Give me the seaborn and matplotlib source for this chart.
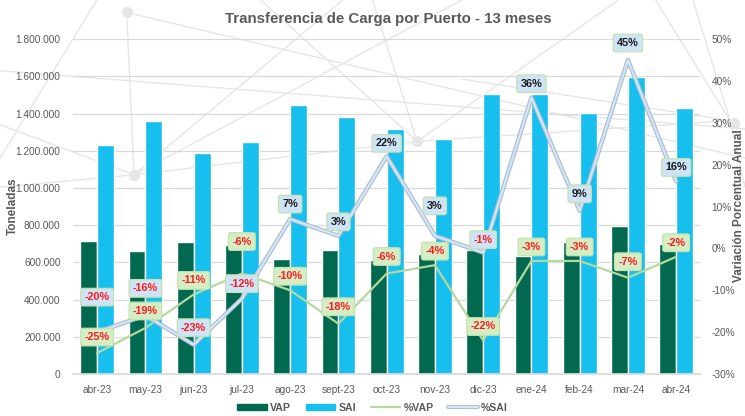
import numpy as np
import pandas as pd
import matplotlib
matplotlib.use("Agg")
import matplotlib.pyplot as plt
import matplotlib.patheffects as pe
from matplotlib.lines import Line2D
from matplotlib.patches import Patch
from matplotlib.ticker import FuncFormatter
import seaborn as sns

# ==================== Data ====================
months = ["abr-23", "may-23", "jun-23", "jul-23", "ago-23", "sept-23", "oct-23",
          "nov-23", "dic-23", "ene-24", "feb-24", "mar-24", "abr-24"]
vap = [717000, 663000, 712000, 692000, 620000, 668000, 612000,
       645000, 668000, 636000, 708000, 796000, 699000]
sai = [1233000, 1361000, 1190000, 1248000, 1447000, 1381000, 1317000,
       1265000, 1505000, 1504000, 1403000, 1598000, 1428000]
pct_vap = [-25, -19, -11, -6, -10, -18, -6, -4, -22, -3, -3, -7, -2]
pct_sai = [-20, -16, -23, -12, 7, 3, 22, 3, -1, 36, 9, 45, 16]

# label offsets above the point (pixels)
off_vap = [16, 17, 14, 32, 14, 17, 17, 14, 14, 14, 14, 16, 14]
off_sai = [35, 27, 17, 15, 15, 14, 13, 30, 13, 14, 17, 17, 14]

C_VAP = "#00694f"
C_SAI = "#17bfef"
C_LVAP = "#b5d99c"
C_LSAI = "#d5e5f5"
GRAY = "#595959"

sns.set_theme(style="white")
plt.rcParams["font.family"] = ["Liberation Sans", "DejaVu Sans"]

df = pd.DataFrame({
    "mes": months * 2,
    "serie": ["VAP"] * len(months) + ["SAI"] * len(months),
    "ton": vap + sai,
})

fig = plt.figure(figsize=(7.45, 4.16), dpi=100)

# faint decorative network in the background
deco = [((0.0, 0.83), (1.0, 0.69)), ((0.17, 0.97), (0.18, 0.58)), ((0.17, 0.97), (1.0, 0.62)),
        ((0.18, 0.58), (0.46, 1.0)), ((0.18, 0.58), (0.62, 1.0)), ((0.0, 0.7), (0.18, 0.58)),
        ((0.18, 0.58), (0.56, 0.66)), ((0.56, 0.66), (0.83, 1.0)), ((0.56, 0.66), (0.98, 0.71)),
        ((0.98, 0.71), (0.88, 1.0)), ((0.98, 0.71), (0.93, 1.0)), ((0.56, 0.66), (0.5, 1.0)),
        ((0.0, 0.55), (0.18, 0.58)), ((0.13, 1.0), (0.0, 0.62)), ((0.98, 0.71), (1.0, 0.55)),
        ((0.62, 0.81), (0.98, 0.71)), ((0.35, 1.0), (0.56, 0.66))]
for (x0, y0), (x1, y1) in deco:
    fig.add_artist(Line2D([x0, x1], [y0, y1], transform=fig.transFigure,
                          color="#e6e6e6", lw=1.0, zorder=0))
for nx, ny in [(0.17, 0.97), (0.18, 0.58), (0.56, 0.66), (0.985, 0.705)]:
    fig.add_artist(Line2D([nx], [ny], transform=fig.transFigure, marker="o",
                          ms=7, color="#e6e6e6", zorder=0))

ax = fig.add_axes([0.098, 0.101, 0.842, 0.805])
ax.patch.set_alpha(0)
sns.barplot(data=df, x="mes", y="ton", hue="serie", palette=[C_VAP, C_SAI],
            width=0.7, ax=ax, legend=False, saturation=1)
ax.set_ylim(0, 1800000)
ax.set_yticks(np.arange(0, 1800001, 200000))
ax.yaxis.set_major_formatter(FuncFormatter(lambda v, p: f"{int(v):,}".replace(",", ".")))
ax.grid(axis="y", color="#d9d9d9", lw=0.9)
ax.set_axisbelow(True)
ax.set_xlim(-0.5, len(months) - 0.5)
ax.set_xlabel("")
ax.set_ylabel("")
ax.tick_params(axis="both", labelsize=7.3, colors=GRAY, length=0)
ax.tick_params(axis="y", pad=9)
ax.set_xticks(np.arange(len(months)) + 0.5, minor=True)
ax.tick_params(axis="x", which="minor", length=5, color="#d9d9d9", width=1)
ax.tick_params(axis="x", which="major", pad=8)
for s in ["top", "right", "left"]:
    ax.spines[s].set_visible(False)
ax.spines["bottom"].set_color("#d9d9d9")

ax2 = ax.twinx()
x = np.arange(len(months))
sns.lineplot(x=x, y=pct_vap, ax=ax2, color=C_LVAP, lw=1.6)
sns.lineplot(x=x, y=pct_sai, ax=ax2, color=C_LSAI, lw=1.6,
             path_effects=[pe.Stroke(linewidth=3.2, foreground="#a9bdd1"), pe.Normal()])
ax2.set_ylim(-30, 50)
ax2.set_yticks(np.arange(-30, 51, 10))
ax2.yaxis.set_major_formatter(FuncFormatter(lambda v, p: f"{int(v)}%"))
ax2.tick_params(axis="y", labelsize=7.3, colors=GRAY, length=0, pad=8)
for s in ax2.spines.values():
    s.set_visible(False)

fig.text(0.017, 0.505, "Toneladas", rotation=90, ha="center", va="center",
         fontsize=8.5, fontweight="bold", color=GRAY)
fig.text(0.992, 0.505, "Variación Porcentual Anual", rotation=90, ha="center", va="center",
         fontsize=8.5, fontweight="bold", color=GRAY)

px2pt = 72 / 100
for i in range(len(months)):
    for val, off, fc in [(pct_vap[i], off_vap[i], "#d5edc4"), (pct_sai[i], off_sai[i], "#cfe3f6")]:
        ax2.annotate(f"{val}%", (i, val), xytext=(0, off * px2pt), textcoords="offset points",
                     ha="center", va="center", fontsize=7.8, fontweight="bold",
                     color="#ff1a1a" if val < 0 else "#1a1a1a",
                     bbox=dict(boxstyle="round,pad=0.35,rounding_size=0.2", fc=fc,
                               ec="#c3e3ad", lw=0.9), zorder=5)

fig.suptitle("Transferencia de Carga por Puerto - 13 meses", x=0.521, y=0.97,
             fontsize=10.8, fontweight="bold", color=GRAY)

handles = [Patch(color=C_VAP, label="VAP"), Patch(color=C_SAI, label="SAI"),
           Line2D([], [], color=C_LVAP, lw=1.6, label="%VAP"),
           Line2D([], [], color=C_LSAI, lw=1.6,
                  path_effects=[pe.Stroke(linewidth=3, foreground="#a9bdd1"), pe.Normal()],
                  label="%SAI")]
leg = fig.legend(handles=handles, loc="center", bbox_to_anchor=(0.5, 0.02), ncol=4,
                 frameon=False, fontsize=7.6, handlelength=2.8, handleheight=0.6,
                 columnspacing=1.4, handletextpad=0.3)
for t in leg.get_texts():
    t.set_color(GRAY)
    t.set_fontweight("bold")

fig.savefig("out.png", dpi=100)
